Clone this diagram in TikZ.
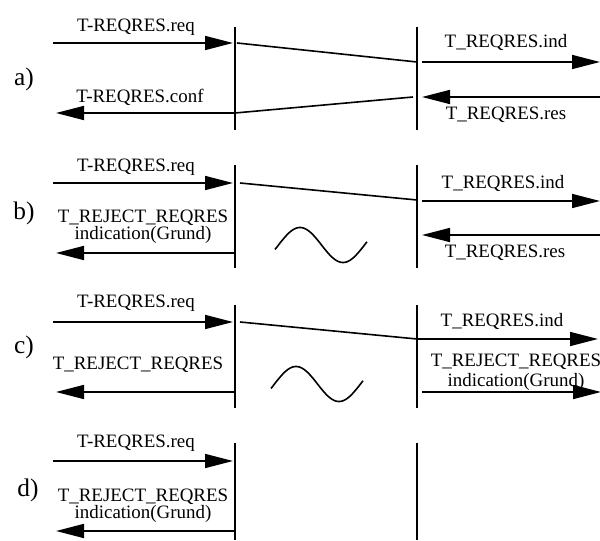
\documentclass[tikz,border=0pt]{standalone}
\usepackage{fontspec}
\setmainfont{Liberation Serif}
\usetikzlibrary{arrows.meta}
\begin{document}
\begin{tikzpicture}[x=0.75pt,y=-0.75pt,
  line width=1.2pt,
  lifeline/.style={line width=1.2pt},
  msg/.style={-{Triangle[length=21pt,width=10.5pt]},line width=1.2pt},
  slant/.style={line width=1.2pt},
  lbl/.style={inner sep=0pt,anchor=base,font=\fontsize{14.2}{12.75}\selectfont,align=center},
  sec/.style={inner sep=0pt,font=\fontsize{19}{20}\selectfont},
  wave/.style={line width=1.2pt,line join=round}]
\useasboundingbox (0,0) rectangle (600,541);

% ---------- a) ----------
\node[sec] (la) at (24,79) {a)};
\coordinate (aLt) at (235,27); \coordinate (aLb) at (235,130);
\coordinate (aRt) at (417,27); \coordinate (aRb) at (417,130);
\draw[lifeline] (aLt) -- (aLb);
\draw[lifeline] (aRt) -- (aRb);
\coordinate (a1s) at (53,43);  \coordinate (a1e) at (233,43);
\coordinate (a2s) at (237,43); \coordinate (a2e) at (417,62);
\coordinate (a3s) at (422,62); \coordinate (a3e) at (600,62);
\coordinate (a4s) at (600,97); \coordinate (a4e) at (422,97);
\coordinate (a5s) at (413,97); \coordinate (a5e) at (235,113);
\coordinate (a6s) at (235,113); \coordinate (a6e) at (56,113);
\draw[msg] (a1s) -- (a1e);
\draw[slant] (a2s) -- (a2e);
\draw[msg] (a3s) -- (a3e);
\draw[msg] (a4s) -- (a4e);
\draw[slant] (a5s) -- (a5e);
\draw[msg] (a6s) -- (a6e);
\node[lbl] (ta1) at (136,32) {T-REQRES.req};
\node[lbl] (ta3) at (506,48) {T\_REQRES.ind};
\node[lbl] (ta4) at (506,120) {T\_REQRES.res};
\node[lbl] (ta6) at (140,103) {T-REQRES.conf};

% ---------- b) ----------
\node[sec] (lb) at (24,213) {b)};
\coordinate (bLt) at (235,165); \coordinate (bLb) at (235,268);
\coordinate (bRt) at (417,165); \coordinate (bRb) at (417,268);
\draw[lifeline] (bLt) -- (bLb);
\draw[lifeline] (bRt) -- (bRb);
\coordinate (b1s) at (53,183);  \coordinate (b1e) at (233,183);
\coordinate (b2s) at (240,183); \coordinate (b2e) at (417,200);
\coordinate (b3s) at (422,201); \coordinate (b3e) at (600,201);
\coordinate (b4s) at (600,235); \coordinate (b4e) at (422,235);
\coordinate (b5s) at (235,253); \coordinate (b5e) at (56,253);
\draw[msg] (b1s) -- (b1e);
\draw[slant] (b2s) -- (b2e);
\draw[msg] (b3s) -- (b3e);
\draw[msg] (b4s) -- (b4e);
\draw[msg] (b5s) -- (b5e);
\node[lbl] (tb1) at (136,172) {T-REQRES.req};
\node[lbl] (tb3) at (503,189) {T\_REQRES.ind};
\node[lbl] (tb4) at (505,258) {T\_REQRES.res};
\node[lbl] (tb5) at (143,240) {T\_REJECT\_REQRES\\indication(Grund)};
\draw[wave] plot[domain=275:367,samples=80,smooth] (\x,{245-17.5*sin((\x-300)/43*180+90)});

% ---------- c) ----------
\node[sec] (lc) at (24,347) {c)};
\coordinate (cLt) at (235,305); \coordinate (cLb) at (235,408);
\coordinate (cRt) at (417,305); \coordinate (cRb) at (417,408);
\draw[lifeline] (cLt) -- (cLb);
\draw[lifeline] (cRt) -- (cRb);
\coordinate (c1s) at (53,322);  \coordinate (c1e) at (233,322);
\coordinate (c2s) at (240,322); \coordinate (c2e) at (417,339);
\coordinate (c3s) at (417,339); \coordinate (c3e) at (598,339);
\coordinate (c4s) at (235,392); \coordinate (c4e) at (56,392);
\coordinate (c5s) at (422,392); \coordinate (c5e) at (601,392);
\draw[msg] (c1s) -- (c1e);
\draw[slant] (c2s) -- (c2e);
\draw[msg] (c3s) -- (c3e);
\draw[msg] (c4s) -- (c4e);
\draw[msg] (c5s) -- (c5e);
\node[lbl] (tc1) at (136,308) {T-REQRES.req};
\node[lbl] (tc3) at (502,327) {T\_REQRES.ind};
\node[lbl] (tc4) at (138,370) {T\_REJECT\_REQRES};
\node[lbl,font=\fontsize{14.2}{15}\selectfont] (tc5) at (516,387) {T\_REJECT\_REQRES\\indication(Grund)};
\draw[wave] plot[domain=271:363,samples=80,smooth] (\x,{384-17.5*sin((\x-296)/43*180+90)});

% ---------- d) ----------
\node[sec] (ld) at (28,490) {d)};
\coordinate (dLt) at (235,443); \coordinate (dLb) at (235,540);
\coordinate (dRt) at (417,443); \coordinate (dRb) at (417,540);
\draw[lifeline] (dLt) -- (dLb);
\draw[lifeline] (dRt) -- (dRb);
\coordinate (d1s) at (53,461);  \coordinate (d1e) at (233,461);
\coordinate (d2s) at (235,531); \coordinate (d2e) at (56,531);
\draw[msg] (d1s) -- (d1e);
\draw[msg] (d2s) -- (d2e);
\node[lbl] (td1) at (136,448) {T-REQRES.req};
\node[lbl] (td2) at (143,518) {T\_REJECT\_REQRES\\indication(Grund)};
\end{tikzpicture}
\end{document}
